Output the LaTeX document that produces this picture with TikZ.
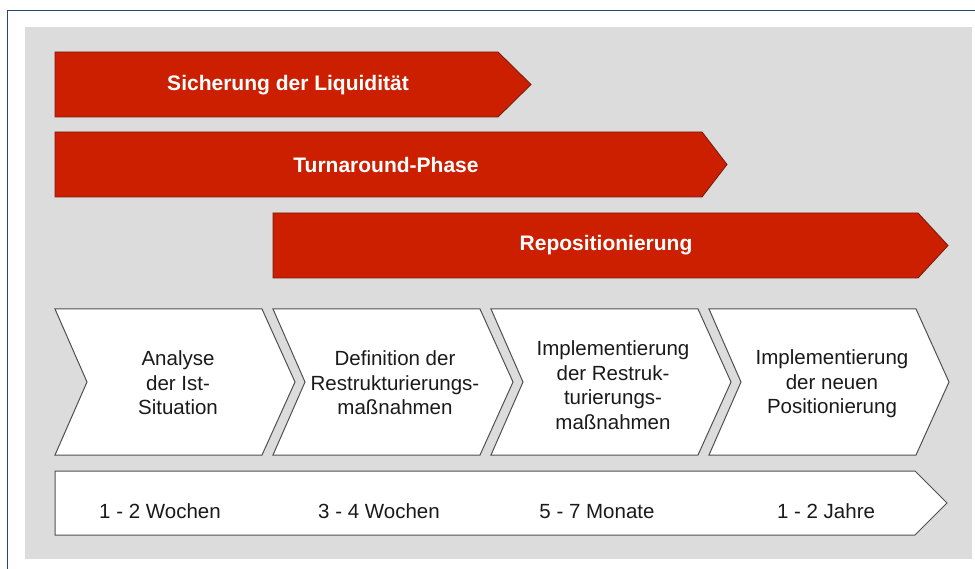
\documentclass[tikz,border=0pt]{standalone}
\usepackage{fontspec}
\setmainfont{Liberation Sans}
\definecolor{framenavy}{HTML}{1F4A78}
\definecolor{panelgray}{HTML}{DCDCDC}
\definecolor{barred}{HTML}{CB1F00}
\definecolor{baredge}{HTML}{7A1E10}
\definecolor{stepedge}{HTML}{505050}
\definecolor{steptext}{HTML}{1A1A1A}
\tikzset{
  phasebar/.style={fill=barred, draw=baredge, line width=0.9pt, line join=miter},
  phaselabel/.style={text=white, font=\fontsize{21}{25}\selectfont\bfseries, inner sep=0pt},
  stepshape/.style={fill=white, draw=stepedge, line width=1pt, line join=miter},
  steplabel/.style={text=steptext, align=center, font=\fontsize{20.5}{24.5}\selectfont, inner sep=0pt},
  timelabel/.style={text=steptext, font=\fontsize{20.5}{24.5}\selectfont, inner sep=0pt, anchor=base}
}
\begin{document}
\begin{tikzpicture}[x=1pt,y=-1pt]
\useasboundingbox (0,0) rectangle (975,569);
\clip (0,0) rectangle (975,569);
\fill[white] (0,0) rectangle (975,569);
% outer frame and grey panel
\draw[framenavy, line width=1.5pt] (7.5,10.5) rectangle (1000,600);
\fill[panelgray] (25,27) rectangle (972,559);

% phase banners
\path[phasebar] (55,52) -- (498,52) -- (531,84.5) -- (498,117) -- (55,117) -- cycle;
\path[phasebar] (55,132) -- (702,132) -- (727,164.5) -- (702,197) -- (55,197) -- cycle;
\path[phasebar] (273,213) -- (918,213) -- (948,245.5) -- (918,278) -- (273,278) -- cycle;
\node[phaselabel] (liq) at (288,85) {Sicherung der Liquidität};
\node[phaselabel] (turn) at (386,165) {Turnaround-Phase};
\node[phaselabel] (repo) at (606,245) {Repositionierung};

% process steps
\foreach \x in {55,273,491,709} {
  \path[stepshape] (\x,309) -- (\x+207,309) -- (\x+240,382) -- (\x+207,455)
    -- (\x,455) -- (\x+32,382) -- cycle;
}
\node[steplabel] (s1) at (178,383) {Analyse\\der Ist-\\Situation};
\node[steplabel] (s2) at (395,383) {Definition der\\Restrukturierungs-\\maßnahmen};
\node[steplabel] (s3) at (613,385) {Implementierung\\der Restruk-\\turierungs-\\maßnahmen};
\node[steplabel] (s4) at (832,384) {Implementierung\\der neuen\\Positionierung};

% time line
\path[stepshape] (55,471) -- (915,471) -- (947,503) -- (915,535) -- (55,535) -- cycle;
\node[timelabel] (t1) at (160,518) {1 - 2 Wochen};
\node[timelabel] (t2) at (379,518) {3 - 4 Wochen};
\node[timelabel] (t3) at (597,518) {5 - 7 Monate};
\node[timelabel] (t4) at (826,518) {1 - 2 Jahre};
\end{tikzpicture}
\end{document}
